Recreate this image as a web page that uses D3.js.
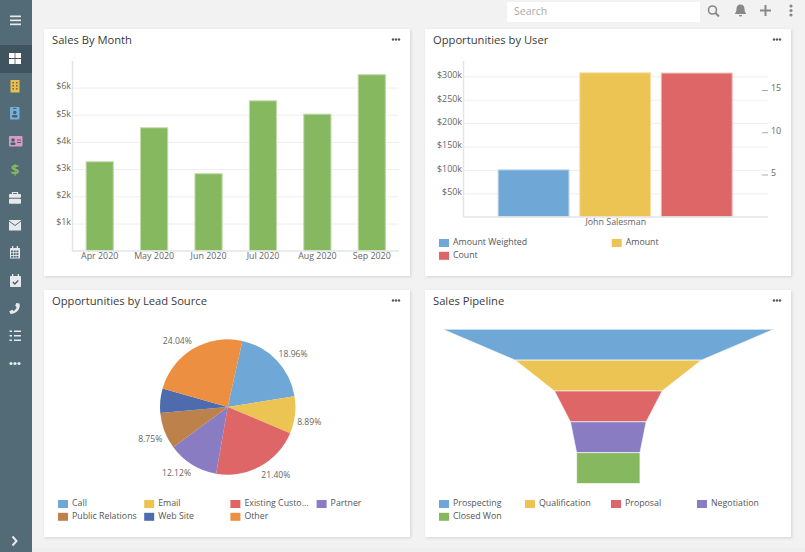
<!DOCTYPE html>
<html lang="en">
<head>
<meta charset="utf-8">
<title>Dashboard</title>
<script src="https://cdn.jsdelivr.net/npm/d3@7"></script>
<style>
  html, body { margin: 0; padding: 0; background: #f2f2f2; overflow: hidden; }
  svg { display: block; font-family: "Open Sans", sans-serif; }
  .grid line { stroke: #eeeeee; }
  .grid path { display: none; }
  .axisline { stroke: #e4e4e4; stroke-width: 1.5; }
  .ticks path { display: none; }
  .ticks text { fill: #666; font-size: 8.9px; font-family: "Open Sans", sans-serif; }
  .title { fill: #3a3a3a; font-size: 11.2px; }
  .legend { fill: #555; font-size: 8.8px; }
</style>
</head>
<body>
<script>
// colours used by all the charts
var blue = "#6fa8d6", yellow = "#ecc453", red = "#df6666", purple = "#8a7cc2",
    green = "#86b85f", brown = "#bd824b", navy = "#4e6cad", orange = "#ec8f41";

// Sales By Month
var months = ["Apr 2020", "May 2020", "Jun 2020", "Jul 2020", "Aug 2020", "Sep 2020"];
var monthSales = [3270, 4520, 2830, 5510, 5020, 6470];
var salesTicks = [1000, 2000, 3000, 4000, 5000, 6000];

// Opportunities by User
var users = ["John Salesman"];
var userSeries = ["Amount Weighted", "Amount", "Count"];
var amountWeighted = [100000];
var amount = [307500];
var count = [17];
var amountTicks = [50000, 100000, 150000, 200000, 250000, 300000];
var countTicks = [5, 10, 15];

// Opportunities by Lead Source
var sources = ["Call", "Email", "Existing Custo...", "Partner", "Public Relations", "Web Site", "Other"];
var sourceShare = [18.96, 8.89, 21.40, 12.12, 8.75, 5.84, 24.04];
var sourceLabels = ["18.96%", "8.89%", "21.40%", "12.12%", "8.75%", "", "24.04%"];

// Sales Pipeline
var stages = ["Prospecting", "Qualification", "Proposal", "Negotiation", "Closed Won"];
var stageValues = [331, 186, 107.7, 75.7, 63.3];

var svg = d3.select("body").append("svg").attr("width", 805).attr("height", 552);

svg.append("rect").attr("y", 548).attr("width", 805).attr("height", 4).attr("fill", "#eeeeee");

var defs = svg.append("defs");
var shadow = defs.append("filter").attr("id", "shadow")
  .attr("x", "-3%").attr("y", "-3%").attr("width", "106%").attr("height", "106%");
shadow.append("feDropShadow").attr("dx", 1).attr("dy", 1).attr("stdDeviation", 1.5)
  .attr("flood-color", "#000").attr("flood-opacity", 0.13);

function card(x, y, title) {
  var g = svg.append("g");
  g.append("rect").attr("x", x).attr("y", y).attr("width", 366).attr("height", 247)
    .attr("fill", "#fff").attr("filter", "url(#shadow)");
  g.append("text").attr("class", "title").attr("x", x + 8).attr("y", y + 15).text(title);
  [349, 352, 355].forEach(function(dx) {
    g.append("circle").attr("cx", x + dx).attr("cy", y + 10.5).attr("r", 1.2).attr("fill", "#555");
  });
}

function legend(names, colors, x0, y0, colWidth) {
  var g = svg.append("g");
  var perRow = Math.round(344 / colWidth);
  names.forEach(function(name, i) {
    var x = x0 + (i % perRow) * colWidth;
    var y = y0 + Math.floor(i / perRow) * 12.8;
    g.append("rect").attr("x", x).attr("y", y).attr("width", 10).attr("height", 8).attr("fill", colors[i]);
    g.append("text").attr("class", "legend").attr("x", x + 14).attr("y", y + 6).text(name);
  });
}

card(44, 29, "Sales By Month");
card(425, 29, "Opportunities by User");
card(44, 290, "Opportunities by Lead Source");
card(425, 290, "Sales Pipeline");

// ---- bar chart by month
var x1 = d3.scaleBand().domain(months).range([72.5, 399]).paddingInner(0.5).paddingOuter(0.25);
var y1 = d3.scaleLinear().domain([0, 7000]).range([250.7, 60.3]);

svg.append("g").attr("class", "grid").attr("transform", "translate(72.5,0)")
  .call(d3.axisLeft(y1).tickValues(salesTicks).tickSize(-326).tickFormat(""));
svg.append("g").selectAll("rect").data(monthSales).enter().append("rect")
  .attr("x", function(d, i) { return x1(months[i]); })
  .attr("y", function(d) { return y1(d); })
  .attr("width", x1.bandwidth())
  .attr("height", function(d) { return y1(0) - y1(d); })
  .attr("fill", green).attr("stroke", "#c3dbaf").attr("stroke-width", 1);
svg.append("line").attr("class", "axisline").attr("x1", 72.5).attr("x2", 72.5).attr("y1", 61).attr("y2", 251);
svg.append("line").attr("class", "axisline").attr("x1", 72.5).attr("x2", 399).attr("y1", 251).attr("y2", 251);
svg.append("g").attr("class", "ticks").attr("transform", "translate(71,-1.5)")
  .call(d3.axisLeft(y1).tickValues(salesTicks).tickSize(0).tickPadding(0)
    .tickFormat(function(d) { return "$" + d / 1000 + "k"; }));
svg.append("g").attr("class", "ticks").attr("transform", "translate(0,252)")
  .call(d3.axisBottom(x1).tickSize(0).tickPadding(1));

// ---- bar chart by user, count on its own axis
var x2 = d3.scaleBand().domain(users).range([463.5, 768]);
var x2s = d3.scaleBand().domain(userSeries).range([492.8, 737.5]).paddingInner(0.1325).paddingOuter(0.066);
var y2 = d3.scaleLinear().domain([0, 300000]).range([216.7, 76.3]);
var y2c = d3.scaleLinear().domain([0, 15]).range([216.7, 90]);
var userValues = [amountWeighted[0], amount[0], count[0]];
var userColors = [blue, yellow, red];

svg.append("g").attr("class", "grid").attr("transform", "translate(463.5,0)")
  .call(d3.axisLeft(y2).tickValues(amountTicks).tickSize(-304.5).tickFormat(""));
svg.append("g").selectAll("rect").data(userValues).enter().append("rect")
  .attr("x", function(d, i) { return x2s(userSeries[i]); })
  .attr("y", function(d, i) { return i == 2 ? y2c(d) : y2(d); })
  .attr("width", x2s.bandwidth())
  .attr("height", function(d, i) { return i == 2 ? y2c(0) - y2c(d) : y2(0) - y2(d); })
  .attr("fill", function(d, i) { return userColors[i]; })
  .attr("stroke", function(d, i) { return d3.interpolateRgb(userColors[i], "#fff")(0.5); })
  .attr("stroke-width", 1);
svg.append("line").attr("class", "axisline").attr("x1", 463.5).attr("x2", 463.5).attr("y1", 61).attr("y2", 217);
svg.append("line").attr("class", "axisline").attr("x1", 463.5).attr("x2", 768).attr("y1", 217).attr("y2", 217);
svg.append("g").attr("class", "ticks").attr("transform", "translate(462,-1.5)")
  .call(d3.axisLeft(y2).tickValues(amountTicks).tickSize(0).tickPadding(0)
    .tickFormat(function(d) { return "$" + d / 1000 + "k"; }));
var rightAxis = svg.append("g").attr("class", "ticks").attr("transform", "translate(768,0)")
  .call(d3.axisRight(y2c).tickValues(countTicks).tickSize(0).tickPadding(3));
rightAxis.selectAll("text").attr("dy", "0.1em");
rightAxis.selectAll(".tick").append("line").attr("x1", -6).attr("x2", 0).attr("stroke", "#aaa");
svg.append("g").attr("class", "ticks").attr("transform", "translate(0,218)")
  .call(d3.axisBottom(x2).tickSize(0).tickPadding(1));
legend(userSeries, userColors, 439, 239, 172.7);

// ---- pie
var pieColors = [blue, yellow, red, purple, brown, navy, orange];
var pieStart = 12.5 * Math.PI / 180;
var pie = d3.pie().sort(null).startAngle(pieStart).endAngle(pieStart + 2 * Math.PI);
var arc = d3.arc().innerRadius(0).outerRadius(67.7);
var pieG = svg.append("g").attr("transform", "translate(227.7,407)");
var slices = pie(sourceShare);
pieG.selectAll("path").data(slices).enter().append("path")
  .attr("d", arc).attr("fill", function(d, i) { return pieColors[i]; });
pieG.selectAll("text").data(slices).enter().append("text")
  .attr("font-size", 8.6).attr("fill", "#666")
  .attr("dy", "0.35em")
  .attr("text-anchor", function(d) {
    return Math.sin((d.startAngle + d.endAngle) / 2) > 0 ? "start" : "end";
  })
  .attr("x", function(d) { return 70 * Math.sin((d.startAngle + d.endAngle) / 2); })
  .attr("y", function(d) {
    var c = Math.cos((d.startAngle + d.endAngle) / 2);
    return -73 * c + (c > 0 ? -3 : 3 + 4 * (1 + c));
  })
  .text(function(d, i) { return sourceLabels[i]; });
legend(sources, pieColors, 58, 500, 86.2);

// ---- funnel
var funnelColors = [blue, yellow, red, purple, green];
var fx = d3.scaleLinear().domain([0, stageValues[0]]).range([0, 331]);
var fy = d3.scaleBand().domain(stages).range([329.3, 483.5]);
svg.append("g").selectAll("path").data(stages).enter().append("path")
  .attr("d", function(d, i) {
    var upper = fx(stageValues[i]) / 2;
    var lower = fx(stageValues[Math.min(i + 1, stages.length - 1)]) / 2;
    var y0 = fy(d), y1b = y0 + fy.bandwidth();
    return d3.line()([[608.3 - upper, y0], [608.3 + upper, y0], [608.3 + lower, y1b], [608.3 - lower, y1b]]) + "Z";
  })
  .attr("fill", function(d, i) { return funnelColors[i]; })
  .attr("stroke", "#fff").attr("stroke-opacity", 0.6).attr("stroke-width", 1);
legend(stages, funnelColors, 439, 500, 86);

// ---- top bar
svg.append("rect").attr("x", 507).attr("y", 2).attr("width", 193).attr("height", 20).attr("fill", "#fff");
svg.append("text").attr("x", 514).attr("y", 15).attr("font-size", 10.5).attr("fill", "#aaa").text("Search");
var topBar = svg.append("g").attr("fill", "none").attr("stroke", "#888");
topBar.append("circle").attr("cx", 712.5).attr("cy", 10).attr("r", 4).attr("stroke-width", 1.6);
topBar.append("line").attr("x1", 715.5).attr("y1", 13).attr("x2", 719).attr("y2", 16.5).attr("stroke-width", 2);
topBar.append("path").attr("fill", "#888").attr("stroke", "none")
  .attr("d", "M740.5 4.5c-2.6 0-4 2-4 4.5 0 2.6-1 3.6-1.8 5h11.6c-.8-1.4-1.8-2.4-1.8-5 0-2.5-1.4-4.5-4-4.5zM739 15h3c0 1-.7 1.5-1.500 1.500S739 16 739 15z");
topBar.append("path").attr("stroke-width", 2).attr("d", "M760 10.500h11M765.500 5v11");
[6, 10.500, 15].forEach(function(y) {
  topBar.append("circle").attr("cx", 791).attr("cy", y).attr("r", 1.6).attr("fill", "#888").attr("stroke", "none");
});

// ---- sidebar
var iconColor = "#e6eaec";
svg.append("rect").attr("width", 32).attr("height", 552).attr("fill", "#536b77");
svg.append("rect").attr("y", 45).attr("width", 32).attr("height", 28).attr("fill", "#3f545e");
var side = svg.append("g");

function box(x, y, w, h, fill, r) {
  return side.append("rect").attr("x", x).attr("y", y).attr("width", w).attr("height", h).attr("fill", fill).attr("rx", r || 0);
}
// hamburger
[16, 20, 24].forEach(function(y) { box(10, y - 0.5, 11, 1.7, iconColor); });
// dashboard
box(9, 53, 5.6, 5, "#fff"); box(15.4, 53, 5.6, 5, "#fff"); box(9, 59, 5.6, 5, "#fff"); box(15.4, 59, 5.6, 5, "#fff");
// building
box(10.500, 80, 9, 12.500, "#e8bf4e");
[82, 85, 88].forEach(function(y) { box(12.500, y, 1.5, 1.5, "#6b6a4a"); box(16, y, 1.5, 1.5, "#6b6a4a"); });
// badge
box(10, 107, 9.500, 12.500, "#79aedb", 1);
box(13, 108, 3.500, 1, "#46606e");
side.append("circle").attr("cx", 14.8).attr("cy", 112.5).attr("r", 1.7).attr("fill", "#46606e");
box(12, 115, 5.500, 2.500, "#46606e", 1);
// contact card
box(9, 136, 13.500, 10.500, "#d99ac6", 1);
side.append("circle").attr("cx", 13).attr("cy", 140).attr("r", 1.8).attr("fill", "#46606e");
box(10.500, 142.500, 5, 2.500, "#46606e", 1);
box(17, 139.500, 4, 1, "#46606e"); box(17, 142, 4, 1, "#46606e");
// dollar
side.append("text").attr("x", 15).attr("y", 175).attr("text-anchor", "middle").attr("font-size", 15)
  .attr("font-weight", 700).attr("fill", "#86b85f").text("$");
// briefcase
box(9, 194, 12, 3.800, iconColor, 0.7); box(9, 198.800, 12, 5, iconColor, 0.7);
side.append("path").attr("d", "M12.500 194v-1.500h5V194").attr("fill", "none").attr("stroke", iconColor).attr("stroke-width", 1.2);
// envelope
box(9, 220, 12, 10.500, iconColor);
side.append("path").attr("d", "M9 221l6 4.500 6-4.500").attr("fill", "none").attr("stroke", "#536b77").attr("stroke-width", 1);
// calendar
box(10, 248, 10, 10.500, iconColor, 0.7);
box(12, 246, 1.300, 2.500, iconColor); box(16.700, 246, 1.300, 2.500, iconColor);
[250.500, 253.200, 255.900].forEach(function(y) {
  [11, 13.700, 16.400].forEach(function(x) { box(x, y, 2, 1.800, "#536b77"); });
});
// calendar with check
box(10, 276, 11, 11, iconColor, 0.7);
box(12, 274, 1.300, 2.500, iconColor); box(17.700, 274, 1.300, 2.500, iconColor);
side.append("path").attr("d", "M12.800 282l2 2 3.500-3.500").attr("fill", "none").attr("stroke", "#46606e").attr("stroke-width", 1.3);
// phone
side.append("path").attr("d", "M19.500 303.500c1.500 5-3 10.500-9 10.500l-1.200-2.800 3-1.500 1.300 1.200c1.600-1 2.600-2.300 3-4l-1.400-1 1-2.800z").attr("fill", iconColor);
// task list
[330.500, 335, 339.500].forEach(function(y) {
  box(14, y, 7, 1.500, iconColor); box(9.500, y, 2.500, 1.500, iconColor);
});
// more
[11, 15, 19].forEach(function(x) {
  side.append("circle").attr("cx", x).attr("cy", 363.500).attr("r", 1.600).attr("fill", iconColor);
});
// collapse arrow
side.append("path").attr("d", "M12.500 536.500l4 4.500-4 4.500").attr("fill", "none").attr("stroke", iconColor).attr("stroke-width", 2);
</script>
</body>
</html>
